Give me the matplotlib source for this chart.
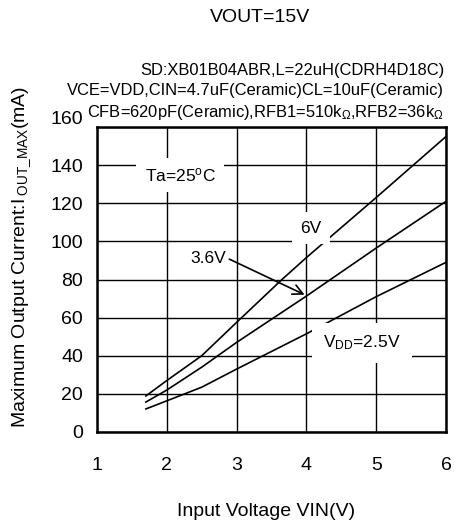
import matplotlib
matplotlib.use("Agg")
import matplotlib.pyplot as plt
import matplotlib.transforms as mtransforms

plt.rcParams['font.family'] = ['Liberation Sans', 'DejaVu Sans']
plt.rcParams['mathtext.fontset'] = 'custom'
plt.rcParams['mathtext.rm'] = 'Liberation Sans'
plt.rcParams['mathtext.it'] = 'Liberation Sans'

# input voltage VIN (V) and max output current (mA) per VDD
vin_6v = [1.7, 2.0, 2.5, 3.0, 3.65, 4.0, 5.0, 6.0]
iout_6v = [18.9, 27.0, 40.0, 57.5, 80.0, 91.5, 123.0, 155.0]
vin_36v = [1.7, 2.0, 2.5, 3.0, 4.0, 5.0, 6.0]
iout_36v = [15.7, 22.0, 34.0, 47.0, 71.3, 96.5, 121.0]
vin_25v = [1.7, 1.8, 2.5, 3.0, 4.0, 5.0, 6.0]
iout_25v = [12.1, 13.5, 23.5, 33.0, 51.5, 71.0, 89.0]

x_ticks = [1, 2, 3, 4, 5, 6]
y_ticks = [0, 20, 40, 60, 80, 100, 120, 140, 160]

fig = plt.figure(figsize=(4.54, 5.31), dpi=100)
ax = fig.add_axes([97/454, 1-432/531, (446-97)/454, (432-127)/531])

for xs, ys in [(vin_6v, iout_6v), (vin_36v, iout_36v), (vin_25v, iout_25v)]:
    ax.plot(xs, ys, color='black', lw=1.2, zorder=3)

ax.set_xlim(1, 6)
ax.set_ylim(0, 160)
ax.set_xticks(x_ticks)
ax.set_yticks(y_ticks)
ax.set_xticklabels([str(t) for t in x_ticks])
ax.set_yticklabels([str(t) for t in y_ticks])
ax.tick_params(axis='both', length=0, labelsize=14)
ax.tick_params(axis='x', pad=18)
ax.tick_params(axis='y', pad=10)
ax.grid(True, color='black', lw=1.0)
for s in ax.spines.values():
    s.set_linewidth(1.8)

# top label sits a bit above the frame
lab = ax.get_yticklabels()[-1]
lab.set_transform(lab.get_transform() + mtransforms.ScaledTranslation(0, 6.5/72, fig.dpi_scale_trans))

box = dict(facecolor='white', edgecolor='none', pad=6)
ax.text(2.19, 134.8, 'Ta=25$^{\\mathrm{o}}$C', fontsize=12.5, ha='center', va='center', bbox=box, zorder=4)
ax.text(4.06, 107, '6V', fontsize=12.5, ha='center', va='center', bbox=box, zorder=4)
ax.text(2.60, 90.8, '3.6V', fontsize=12.5, ha='center', va='center', zorder=4)
ax.text(4.80, 46.7, 'V$_{\\mathrm{DD}}$=2.5V', fontsize=12.5, ha='center', va='center',
        bbox=dict(facecolor='white', edgecolor='none', pad=8), zorder=4)
ax.annotate('', xy=(4.01, 71.4), xytext=(2.86, 91.3),
            arrowprops=dict(arrowstyle='->', color='black', lw=1.2, mutation_scale=18), zorder=5)

fig.text(260/454, 1-17/531, 'VOUT=15V', fontsize=14, ha='center', va='center')
fig.text(444/454, 1-70/531, 'SD:XB01B04ABR,L=22uH(CDRH4D18C)', fontsize=11.9, ha='right', va='center')
fig.text(444/454, 1-91/531, 'VCE=VDD,CIN=4.7uF(Ceramic)CL=10uF(Ceramic)', fontsize=11.9, ha='right', va='center')
fig.text(444/454, 1-112/531, 'CFB=620pF(Ceramic),RFB1=510k$_{\\Omega}$,RFB2=36k$_{\\Omega}$', fontsize=11.9,
         ha='right', va='center')
fig.text(266/454, 1-512/531, 'Input Voltage VIN(V)', fontsize=14, ha='center', va='center')
fig.text(22/454, 1-257/531, 'Maximum Output Current:I$\\,_{\\mathrm{OUT\\_MAX}}$(mA)', fontsize=14,
         rotation=90, ha='center', va='center')

fig.savefig('out.png', dpi=100)
